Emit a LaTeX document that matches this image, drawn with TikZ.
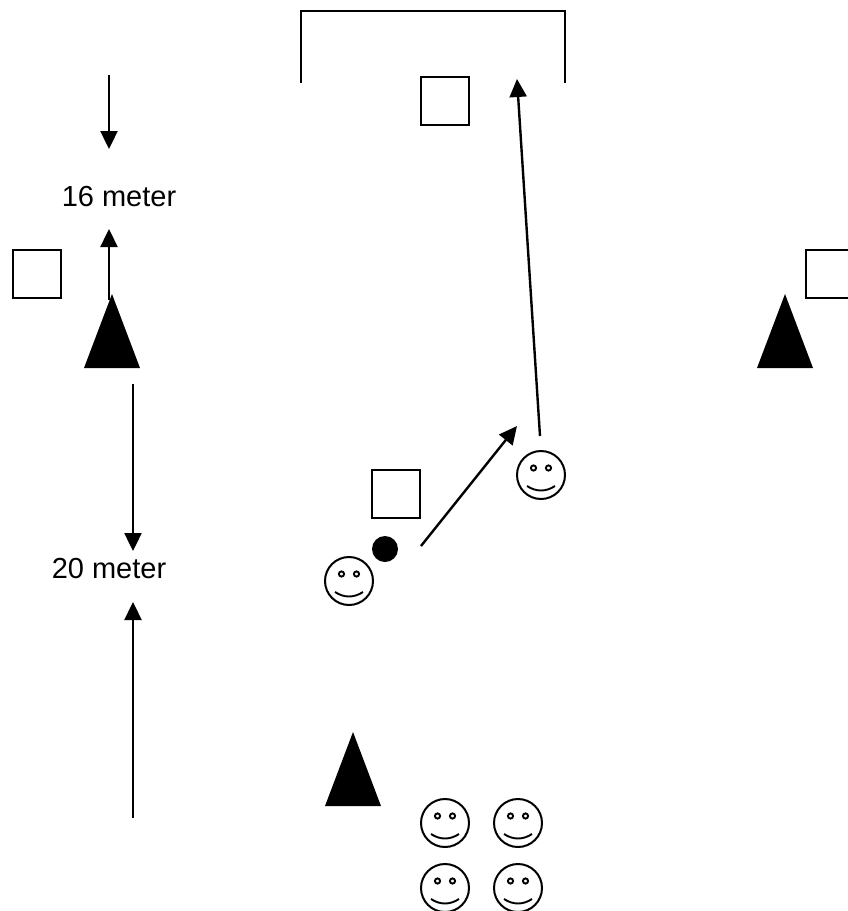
\documentclass[tikz,border=0pt]{standalone}
\usepackage{fontspec}
\setmainfont{Liberation Sans}
\usetikzlibrary{arrows.meta,positioning,shapes.geometric}
\tikzset{
  smiley/.style={circle,draw,line width=2pt,inner sep=0pt,minimum size=48pt,
    path picture={
      \draw[line width=1.9pt,shift={(path picture bounding box.center)}]
        (-7.5,-7) circle (2.6) (7.5,-7) circle (2.6)
        (-14,11) .. controls (-5,17) and (5,17) .. (14,11);
    }},
  marker/.style={rectangle,draw,line width=2pt,inner sep=0pt,minimum size=48pt},
  cone/.style={isosceles triangle,isosceles triangle stretches,shape border rotate=90,
    fill=black,inner sep=0pt,outer sep=0pt,minimum height=74pt,minimum width=56pt,anchor=apex},
  ball/.style={circle,fill=black,inner sep=0pt,minimum size=26pt},
  measure/.style={font=\fontsize{29}{31}\selectfont,inner sep=0pt}
}
\begin{document}
\begin{tikzpicture}[x=1pt,y=-1pt,->,>={Stealth[length=18pt,width=17pt,inset=0pt]},
      line width=2.4pt,on grid]
  \useasboundingbox (0,0) rectangle (848,911);
  \coordinate (goalL) at (301,83);
  \coordinate (goalTL) at (301,11);
  \coordinate (goalTR) at (565,11);
  \coordinate (goalR) at (565,83);
  \draw[-,line width=2pt] (goalL) -- (goalTL) -- (goalTR) -- (goalR);

  \node[marker] (mTop) at (445,101) {};
  \node[marker] (mLeft) at (37,274) {};
  \node[marker] (mRight) at (830,274) {};
  \node[marker] (mMid) at (396,494) {};

  \node[measure] (l16) at (119,197) {16 meter};
  \node[measure] (l20) at (109,569) {20 meter};

  \node[smiley] (pA) at (349,581) {};
  \node[ball] (b) at (385,549) {};
  \node[smiley] (pB) at (541,475) {};
  \node[smiley] (q1) at (445,823) {};
  \node[smiley] (q2) [right=73pt of q1] {};
  \node[smiley] (q3) [below=65pt of q1] {};
  \node[smiley] (q4) [right=73pt of q3] {};

  \coordinate (t16a) at (109,75);
  \coordinate (h16a) at (109,149);
  \coordinate (t16b) at (109,300);
  \coordinate (h16b) at (109,229);
  \coordinate (t20a) at (133,384);
  \coordinate (h20a) at (133,551);
  \coordinate (t20b) at (133,818);
  \coordinate (h20b) at (133,602);
  \coordinate (tPass) at (421,546);
  \coordinate (hPass) at (517,426);
  \coordinate (tRun) at (540,436);
  \coordinate (hRun) at (517,79);

  \draw (t16a) -- (h16a);
  \draw (t16b) -- (h16b);
  \draw (t20a) -- (h20a);
  \draw (t20b) -- (h20b);
  \draw (tPass) -- (hPass);
  \draw (tRun) -- (hRun);

  \node[cone] (cLeft) at (112,294) {};
  \node[cone] (cRight) at (785,294) {};
  \node[cone] (cBottom) at (353,732) {};
\end{tikzpicture}
\end{document}
